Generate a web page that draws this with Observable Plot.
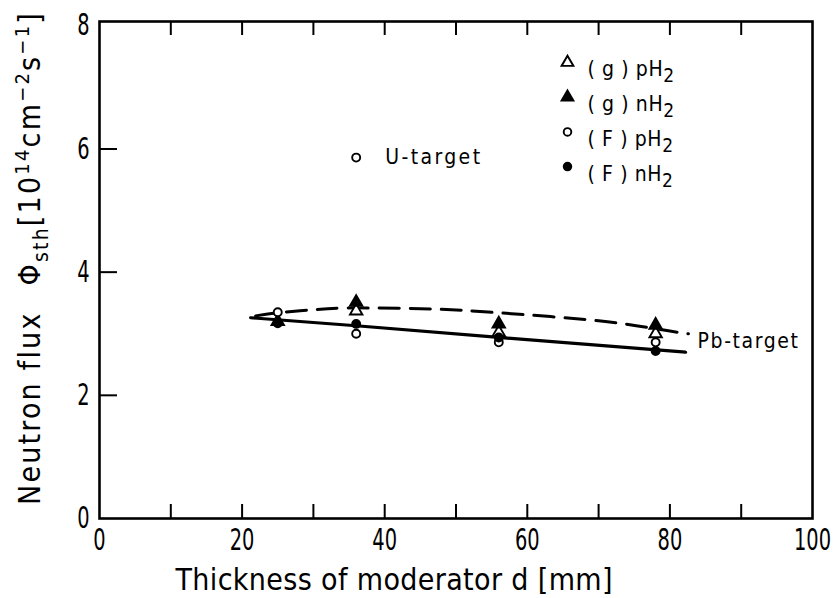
<!DOCTYPE html>
<html><head><meta charset="utf-8">
<script src="https://cdn.jsdelivr.net/npm/d3@7"></script>
<script src="https://cdn.jsdelivr.net/npm/@observablehq/plot@0.6"></script>
<style>body{margin:0;background:#fff}</style>
</head><body><div id="chart"></div>
<script>
// Moderator thickness d [mm] of the measured points
const thickness = [25, 36, 56, 78];
// Neutron flux Φsth [10^14 cm^-2 s^-1]
const gPH2 = [null, 3.37, 3.02, 3.00];   // (g) pH2  open triangle
const gNH2 = [3.20, 3.51, 3.16, 3.14];   // (g) nH2  filled triangle
const fPH2 = [3.35, 3.00, 2.86, 2.86];   // (F) pH2  open circle
const fNH2 = [3.17, 3.16, 2.94, 2.72];   // (F) nH2  filled circle
// U-target point
const uX = [36];
const uY = [5.86];
// Pb-target fitted curves
const solidX = [21.2, 36, 56, 82.2];
const solidY = [3.26, 3.13, 2.94, 2.70];
const dashX = [21.9, 25, 30, 36, 47, 56, 70, 78, 82.6];
const dashY = [3.29, 3.34, 3.39, 3.42, 3.40, 3.34, 3.21, 3.08, 3.00];
const pbLabelY = [2.88];
// axes
const xMinor = [10, 20, 30, 40, 50, 60, 70, 80, 90];
const xLabels = [0, 20, 40, 60, 80, 100];
const yMinor = [2, 4, 6];
const yLabels = [0, 2, 4, 6, 8];
// legend
const legendLabels = ["(g) pH₂", "(g) nH₂", "(F) pH₂", "(F) nH₂"];
const legendSymbols = ["triangle", "triangle", "circle", "circle"];
const legendFilled = [false, true, false, true];

const FONT = '"DejaVu Sans Condensed", "DejaVu Sans", sans-serif';

const pts = ys => thickness.map((x, i) => ({x, y: ys[i]})).filter(d => d.y != null);
const line = (xs, ys) => xs.map((x, i) => ({x, y: ys[i]}));

const dotStyle = (sym, filled) => ({
  x: "x", y: "y", symbol: () => sym,
  r: sym === "triangle" ? 4.6 : 4,
  fill: filled ? "black" : "white",
  stroke: "black", strokeWidth: 1.9
});

const legendMarks = legendLabels.flatMap((lab, i) => [
  Plot.dot([lab], {frameAnchor: "top-left", dx: 468, dy: 41 + i * 34.7,
    symbol: () => legendSymbols[i], r: legendSymbols[i] === "triangle" ? 4.4 : 3.8,
    fill: legendFilled[i] ? "black" : "white", stroke: "black", strokeWidth: 1.9}),
  Plot.text([lab], {frameAnchor: "top-left", dx: 488, dy: 40 + i * 34.7, text: d => d,
    textAnchor: "start", fontSize: 21, fill: "black"})
]);

const chart = Plot.plot({
  width: 838, height: 598,
  marginLeft: 99, marginRight: 26, marginTop: 21, marginBottom: 80,
  x: {domain: [0, 100]},
  y: {domain: [0, 8.07]},
  style: {fontFamily: FONT, fontSize: "30px", color: "black", background: "white"},
  marks: [
    Plot.axisX(xMinor, {anchor: "bottom", tickSize: -14, tickFormat: () => "", label: null, strokeWidth: 2}),
    Plot.axisX(xMinor, {anchor: "top", tickSize: -13, tickFormat: () => "", label: null, strokeWidth: 2}),
    Plot.axisX(xLabels, {anchor: "bottom", tickSize: 0, tickPadding: 10, label: null, fontSize: 30, tickFormat: d => String(d)}),
    Plot.axisY(yMinor, {anchor: "left", tickSize: -18, tickFormat: () => "", label: null, strokeWidth: 2}),
    Plot.axisY(yLabels, {anchor: "left", tickSize: 0, tickPadding: 10, label: null, fontSize: 30, tickFormat: d => String(d)}),
    Plot.frame({stroke: "black", strokeWidth: 2.6}),
    Plot.line(line(dashX, dashY), {x: "x", y: "y", curve: "natural", stroke: "black", strokeWidth: 3, strokeDasharray: "20,11"}),
    Plot.line(line(solidX, solidY), {x: "x", y: "y", curve: "natural", stroke: "black", strokeWidth: 3.2}),
    Plot.dot(pts(gPH2), dotStyle("triangle", false)),
    Plot.dot(pts(gNH2), dotStyle("triangle", true)),
    Plot.dot(pts(fPH2), dotStyle("circle", false)),
    Plot.dot(pts(fNH2), dotStyle("circle", true)),
    Plot.dot(line(uX, uY), dotStyle("circle", false)),
    Plot.text(line(uX, uY), {x: "x", y: "y", dx: 29, text: () => "U-target", textAnchor: "start", fontSize: 21, fill: "black"}),
    Plot.text(line([solidX[solidX.length - 1]], pbLabelY), {x: "x", y: "y", dx: 12, text: () => "Pb-target", textAnchor: "start", fontSize: 21, fill: "black"}),
    ...legendMarks
  ]
});

const svg = d3.select(chart);
// narrow tick digits like the original lettering
svg.selectAll('g[aria-label="x-axis tick label"] text, g[aria-label="y-axis tick label"] text')
  .each(function() {
    const t = this.getAttribute("transform") || "";
    this.setAttribute("transform", t + " scale(0.72,1)");
  });
// spaced annotation lettering and real subscripts in legend
svg.selectAll("text").each(function() {
  const s = this.textContent;
  if (s === "U-target") {
    d3.select(this).attr("letter-spacing", 2.4);
  } else if (s === "Pb-target") {
    d3.select(this).attr("letter-spacing", 1.6);
  } else if (s.endsWith("₂")) {
    const el = d3.select(this).attr("letter-spacing", 0.6);
    el.text(s.slice(0, -1).replace("(", "( ").replace(")", " )"));
    el.attr("xml:space", "preserve").style("white-space", "pre");
    el.append("tspan").attr("dy", 6).attr("font-size", 19).text("2");
  }
});
// x axis title
svg.append("text")
  .attr("x", 394).attr("y", 590)
  .attr("text-anchor", "middle")
  .attr("font-size", 30).attr("fill", "black")
  .attr("textLength", 437).attr("lengthAdjust", "spacing")
  .text("Thickness of moderator d [mm]");
// y axis title with sub/superscripts
const yt = svg.append("text")
  .attr("transform", "translate(40,505) rotate(-90)")
  .attr("text-anchor", "start")
  .attr("font-size", 30).attr("fill", "black")
  .attr("letter-spacing", 2.2);
yt.append("tspan").text("Neutron flux");
yt.append("tspan").attr("dx", 26).text("Φ");
yt.append("tspan").attr("dy", 8).attr("font-size", 21).text("sth");
yt.append("tspan").attr("dy", -8).text("[10");
yt.append("tspan").attr("dy", -11).attr("font-size", 20).text("14");
yt.append("tspan").attr("dy", 11).text("cm");
yt.append("tspan").attr("dy", -11).attr("font-size", 20).text("−2");
yt.append("tspan").attr("dy", 11).text("s");
yt.append("tspan").attr("dy", -11).attr("font-size", 20).text("−1");
yt.append("tspan").attr("dy", 11).text("]");

document.getElementById("chart").appendChild(chart);
</script>
</body></html>
